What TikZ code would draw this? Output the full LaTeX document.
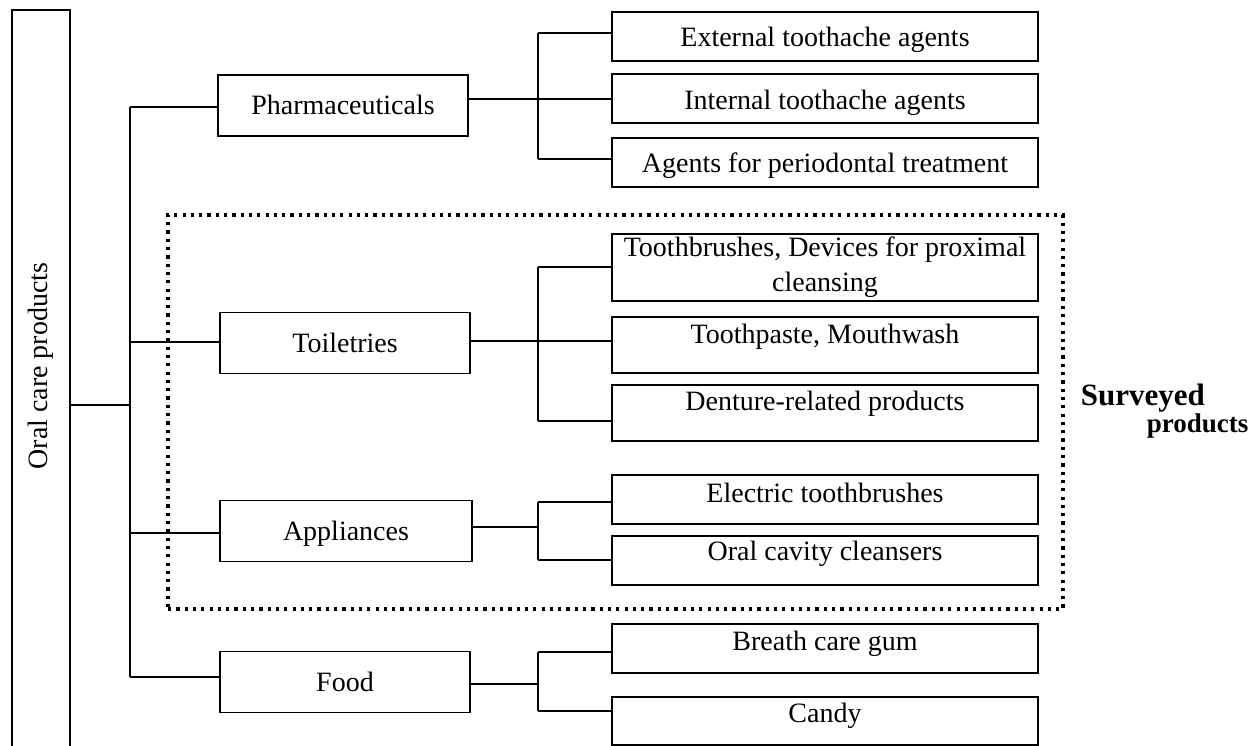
\documentclass[tikz,border=0pt]{standalone}
\usepackage{fontspec}
\setmainfont{Liberation Serif}
\begin{document}
\begin{tikzpicture}[x=1pt,y=-1pt, line width=1.7pt,
  box/.style={draw, inner sep=0pt, font=\fontsize{28}{35}\selectfont},
  lbox/.style={box, minimum width=250, minimum height=61, text height=24pt, text depth=6pt},
  rbox/.style={box, minimum width=426, minimum height=49},
  tb/.style 2 args={text height=#1pt, text depth=#2pt},
  dots/.style={draw, line width=3.2pt, dash pattern=on 3.2pt off 5.1pt, inner sep=0pt}]
\useasboundingbox (0,0) rectangle (1259,746);

% root box (bottom edge outside the picture)
\begin{scope}
\clip (0,0) rectangle (1259,746);
\node[draw, inner sep=0pt, minimum width=58, minimum height=750] (root) at (41,385) {};
\end{scope}
\node[rotate=90, anchor=base, inner sep=0pt, font=\fontsize{28}{35}\selectfont] (roottxt) at (47,366) {Oral care products};

% surveyed frame
\node[dots, minimum width=895, minimum height=394] (survey) at (615.5,412) {};
\node[anchor=base west, inner sep=0pt, font=\bfseries\fontsize{31}{31}\selectfont] (sv1) at (1080,405) {Surveyed};
\node[anchor=base west, inner sep=0pt, font=\bfseries\fontsize{27}{27}\selectfont] (sv2) at (1146,432) {products};

% level 1
\node[lbox] (pharm) at (343,105.5) {Pharmaceuticals};
\node[lbox] (toil) at (345,343) {Toiletries};
\node[lbox, minimum width=252] (appl) at (346,531) {Appliances};
\node[lbox] (food) at (345,682) {Food};

% level 2
\node[rbox, tb={25.5}{4.5}] (ext) at (825,36.5) {External toothache agents};
\node[rbox, tb={26.5}{3.5}] (int) at (825,98.5) {Internal toothache agents};
\node[rbox, tb={25.5}{4.5}] (agt) at (825,162.5) {Agents for periodontal treatment};
\node[rbox, minimum height=67, align=center] (tbr) at (825,267.5) {Toothbrushes, Devices for proximal\\cleansing};
\node[rbox, minimum height=56, tb={13}{17}] (tpst) at (825,345) {Toothpaste, Mouthwash};
\node[rbox, minimum height=56, tb={12}{18}] (den) at (825,413) {Denture-related products};
\node[rbox, tb={17.5}{12.5}] (ele) at (825,499.5) {Electric toothbrushes};
\node[rbox, tb={14.5}{15.5}] (oral) at (825,560.5) {Oral cavity cleansers};
\node[rbox, tb={16.5}{13.5}] (br) at (825,648.5) {Breath care gum};
\node[rbox, minimum height=48, tb={16}{14}] (candy) at (825,721) {Candy};

% trunk
\coordinate (j0) at (130,405);
\coordinate (jp) at (130,107);
\coordinate (jt) at (130,342);
\coordinate (ja) at (130,533);
\coordinate (jf) at (130,677);
\draw (root.east |- j0) -- (j0);
\draw (jp) -- (jf);
\draw (jp) -- (pharm.west |- jp);
\draw (jt) -- (toil.west |- jt);
\draw (ja) -- (appl.west |- ja);
\draw (jf) -- (food.west |- jf);

% pharmaceuticals branch
\coordinate (pj) at (538,99);
\coordinate (p1) at (538,33);
\coordinate (p3) at (538,159);
\draw (pharm.east |- pj) -- (pj);
\draw (p1) -- (p3);
\draw (p1) -- (ext.west |- p1);
\draw (pj) -- (int.west |- pj);
\draw (p3) -- (agt.west |- p3);

% toiletries branch
\coordinate (tj) at (538,341);
\coordinate (t1) at (538,267);
\coordinate (t3) at (538,421);
\draw (toil.east |- tj) -- (tj);
\draw (t1) -- (t3);
\draw (t1) -- (tbr.west |- t1);
\draw (tj) -- (tpst.west |- tj);
\draw (t3) -- (den.west |- t3);

% appliances branch
\coordinate (aj) at (538,527);
\coordinate (a1) at (538,502);
\coordinate (a2) at (538,560);
\draw (appl.east |- aj) -- (aj);
\draw (a1) -- (a2);
\draw (a1) -- (ele.west |- a1);
\draw (a2) -- (oral.west |- a2);

% food branch
\coordinate (fj) at (538,684);
\coordinate (f1) at (538,652);
\coordinate (f2) at (538,711);
\draw (food.east |- fj) -- (fj);
\draw (f1) -- (f2);
\draw (f1) -- (br.west |- f1);
\draw (f2) -- (candy.west |- f2);
\end{tikzpicture}
\end{document}
